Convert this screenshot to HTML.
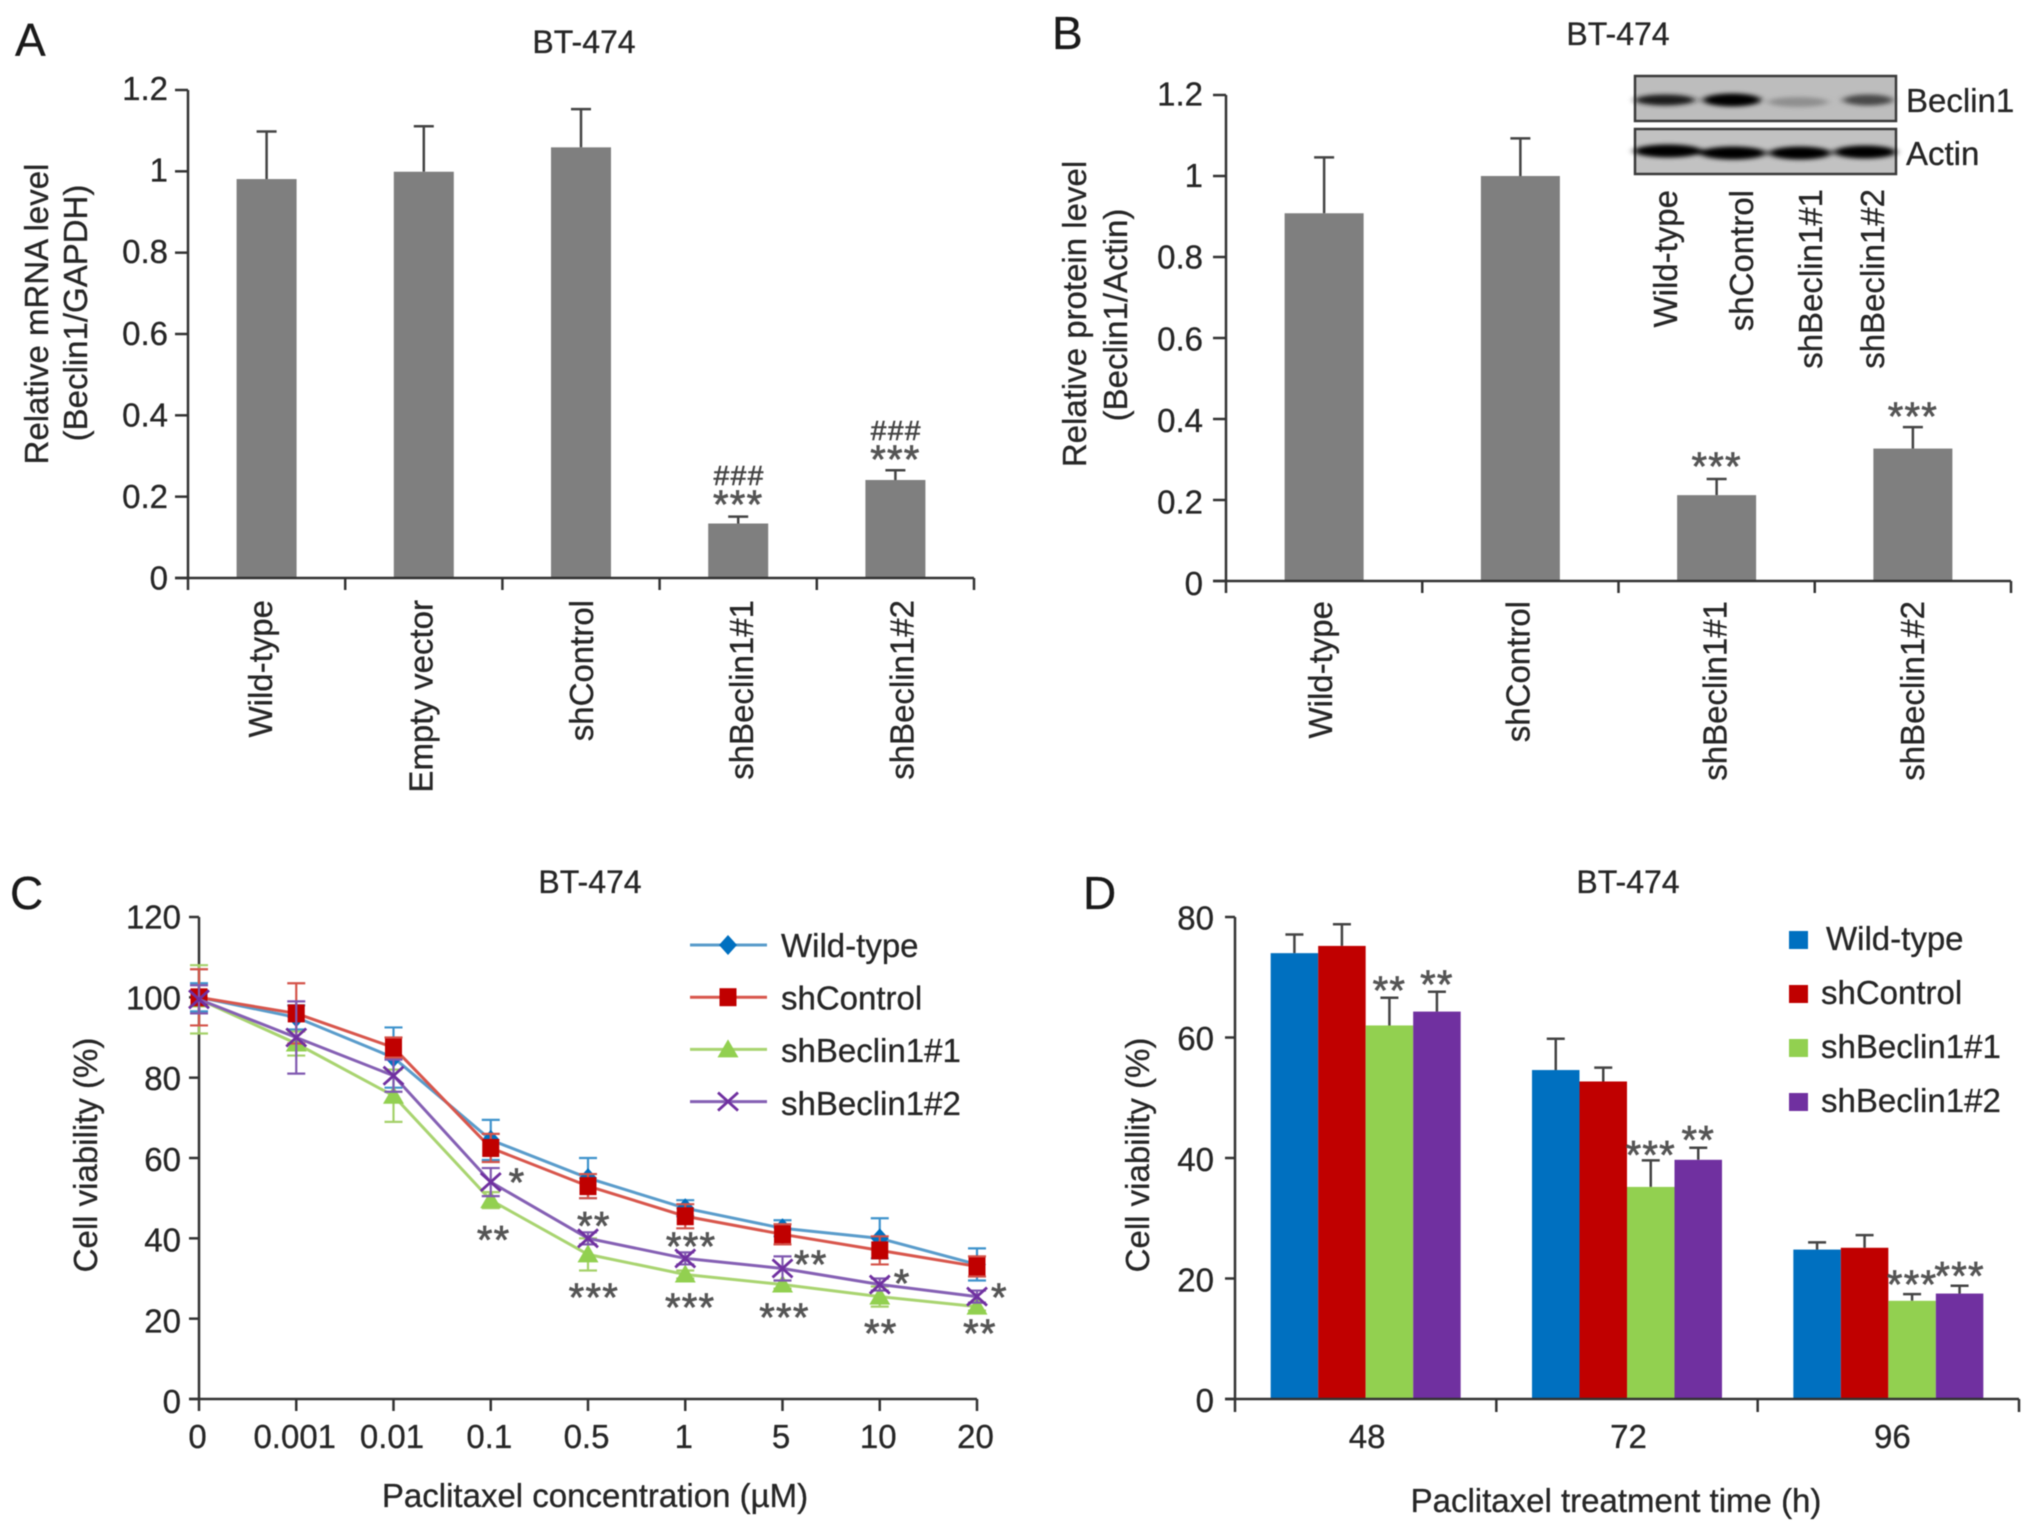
<!DOCTYPE html>
<html>
<head>
<meta charset="utf-8">
<title>Beclin1 knockdown in BT-474</title>
<style>
html,body{margin:0;padding:0;background:#fff;width:2032px;height:1532px;overflow:hidden}
svg{display:block;filter:blur(.55px)}
text{font-family:"Liberation Sans",sans-serif;font-size:33px;fill:#262626;stroke:#262626;stroke-width:.3px}
.letter{font-size:46px;fill:#1a1a1a}
.title{font-size:32px;text-anchor:middle}
.inset{font-size:33px}
</style>
</head>
<body>
<svg id="fig" xmlns="http://www.w3.org/2000/svg" width="2032" height="1532" viewBox="0 0 2032 1532">
  <defs>
    <filter id="soft" x="-30%" y="-100%" width="160%" height="300%"><feGaussianBlur stdDeviation="4 2"/></filter>
  </defs>

  <text class="letter" x="15" y="56">A</text>
  <text class="letter" x="1052" y="49">B</text>
  <text class="letter" x="10" y="909">C</text>
  <text class="letter" x="1083" y="909">D</text>

  <text class="title" x="584" y="53">BT-474</text>
  <text class="title" x="1618" y="45">BT-474</text>
  <text class="title" x="590" y="893">BT-474</text>
  <text class="title" x="1628" y="893">BT-474</text>

  <g text-anchor="middle">
    <text transform="translate(48 314) rotate(-90)">Relative mRNA level</text>
    <text transform="translate(87 313) rotate(-90)">(Beclin1/GAPDH)</text>
  </g>
  <g text-anchor="middle">
    <text transform="translate(1086 314) rotate(-90)">Relative protein level</text>
    <text transform="translate(1127 315) rotate(-90)">(Beclin1/Actin)</text>
  </g>
  <text transform="translate(97 1155) rotate(-90)" text-anchor="middle">Cell viability (%)</text>
  <text transform="translate(1149 1155) rotate(-90)" text-anchor="middle">Cell viability (%)</text>
  <text x="595" y="1507" text-anchor="middle">Paclitaxel concentration (µM)</text>
  <text x="1616" y="1512" text-anchor="middle">Paclitaxel treatment time (h)</text>

  <g id="blot">
    <rect x="1635" y="76" width="261" height="45" fill="#bdbdbd" stroke="#3a3a3a" stroke-width="2.5"/>
    <g filter="url(#soft)">
      <ellipse cx="1665" cy="100" rx="30" ry="5.5" fill="#1f1f1f"/>
      <ellipse cx="1732" cy="100" rx="29" ry="6.5" fill="#000"/>
      <ellipse cx="1798" cy="102" rx="30" ry="5" fill="#8f8f8f"/>
      <ellipse cx="1868" cy="100" rx="25" ry="5.5" fill="#4a4a4a"/>
    </g>
    <rect x="1635" y="129" width="261" height="45" fill="#c2c2c2" stroke="#3a3a3a" stroke-width="2.5"/>
    <g filter="url(#soft)">
      <ellipse cx="1668" cy="151" rx="34" ry="6.5" fill="#000"/>
      <ellipse cx="1733" cy="153" rx="33" ry="6.5" fill="#000"/>
      <ellipse cx="1800" cy="153" rx="31" ry="6.5" fill="#000"/>
      <ellipse cx="1865" cy="152" rx="31" ry="6.5" fill="#000"/>
    </g>
    <text class="inset" x="1906" y="112">Beclin1</text>
    <text class="inset" x="1906" y="165">Actin</text>
    <text class="inset" text-anchor="end" transform="translate(1677 190) rotate(-90)">Wild-type</text>
    <text class="inset" text-anchor="end" transform="translate(1753 190) rotate(-90)">shControl</text>
    <text class="inset" text-anchor="end" transform="translate(1822 189) rotate(-90)">shBeclin1#1</text>
    <text class="inset" text-anchor="end" transform="translate(1884 189) rotate(-90)">shBeclin1#2</text>
  </g>
</svg>

<script>
/* Panel A */
const aCategories = ['Wild-type', 'Empty vector', 'shControl', 'shBeclin1#1', 'shBeclin1#2'];
const aValues = [0.981, 0.999, 1.059, 0.134, 0.241];
const aErrors = [0.117, 0.112, 0.094, 0.017, 0.024];
const aTicks = ['0', '0.2', '0.4', '0.6', '0.8', '1', '1.2'];
/* Panel B */
const bCategories = ['Wild-type', 'shControl', 'shBeclin1#1', 'shBeclin1#2'];
const bValues = [0.908, 1.0, 0.212, 0.327];
const bErrors = [0.138, 0.093, 0.04, 0.053];
const bTicks = ['0', '0.2', '0.4', '0.6', '0.8', '1', '1.2'];
/* Panel C */
const cCategories = ['0', '0.001', '0.01', '0.1', '0.5', '1', '5', '10', '20'];
const cTicks = ['0', '20', '40', '60', '80', '100', '120'];
const cWildType = [100, 95, 85, 64.5, 55, 47.5, 42.5, 40, 33.5];
const cWildTypeErr = [3.5, 3, 7.5, 5, 5, 2, 2, 5, 4];
const cShControl = [100, 96, 87.5, 62.5, 53, 45.5, 41, 37, 33];
const cShControlErr = [7, 7.5, 2.5, 3.5, 3, 3, 2.5, 3.5, 2.5];
const cSh1 = [99.5, 88.5, 75.5, 49.5, 36, 31, 28.5, 25.5, 23];
const cSh1Err = [8.5, 3, 6.5, 2, 4, 1, 1, 2.5, 1];
const cSh2 = [99.5, 90, 80.5, 54, 40, 35, 32.5, 28.5, 25.5];
const cSh2Err = [3.5, 9, 4, 3.5, 1.5, 1.5, 3, 1.5, 1.5];
const cStarMarks = ['*', '**', '**', '***', '***', '***', '**', '***', '*', '**', '*', '**'];
const cStarIndex = [3.27, 3.03, 4.06, 4.06, 5.06, 5.05, 6.29, 6.02, 7.23, 7.01, 8.23, 8.03];
const cStarLevel = [55.3, 41, 44.5, 26.6, 39.3, 24.2, 34.8, 21.7, 30.1, 17.7, 26.6, 17.7];
const seriesNames = ['Wild-type', 'shControl', 'shBeclin1#1', 'shBeclin1#2'];
/* Panel D */
const dCategories = ['48', '72', '96'];
const dTicks = ['0', '20', '40', '60', '80'];
const dWildType = [74, 54.6, 24.8];
const dWildTypeErr = [3.1, 5.2, 1.2];
const dShControl = [75.2, 52.7, 25.1];
const dShControlErr = [3.6, 2.3, 2.1];
const dSh1 = [62, 35.2, 16.3];
const dSh1Err = [4.6, 4.4, 1.1];
const dSh2 = [64.3, 39.7, 17.5];
const dSh2Err = [3.3, 2, 1.3];
const dStarMarks = [['', '', '**', '**'], ['', '', '***', '**'], ['', '', '***', '***']];
const dStarLevel = [[0, 0, 68.7, 69.7], [0, 0, 41.4, 43.9], [0, 0, 19.9, 21.3]];

const NS = 'http://www.w3.org/2000/svg';
const fig = document.getElementById('fig');
const INK = '#333';

function mk(tag, attrs, parent) {
  const el = document.createElementNS(NS, tag);
  for (const k in attrs) el.setAttribute(k, attrs[k]);
  (parent || fig).appendChild(el);
  return el;
}
function slug(s) {
  return String(s).toLowerCase().replace(/[^a-z0-9]+/g, '-').replace(/^-|-$/g, '');
}
function line(x1, y1, x2, y2, stroke, w, parent) {
  return mk('line', {x1: x1, y1: y1, x2: x2, y2: y2, stroke: stroke, 'stroke-width': w}, parent);
}
function stars(x, yc, s, prefix) {
  const t = mk('text', {x: x, y: yc + 19, 'text-anchor': 'middle', 'letter-spacing': '1.2', style: 'font-size:40px;fill:#555;stroke:#555;stroke-width:.7px'});
  t.textContent = s;
  
  
  return t;
}
function hashes(x, baseline, s, prefix) {
  const t = mk('text', {x: x + 1, y: baseline + 1, 'text-anchor': 'middle', 'letter-spacing': '1.5', style: 'font-size:28px;fill:#444;stroke:#444;stroke-width:.6px'});
  t.textContent = s;
  
  
  return t;
}

/* shared value axis: label baseline offset drifts from off0 at zero to offTop at the top */
function yAxis(prefix, ticks, axisX, y0, yTop, labelEnd, tickLen, off0, offTop) {
  const g = mk('g', {});
  
  
  line(axisX, y0, axisX, yTop, INK, 2.5, g);
  ticks.forEach(function (lab, i) {
    const f = i / (ticks.length - 1);
    const y = y0 + (yTop - y0) * f;
    line(axisX - tickLen, y, axisX, y, INK, 2.5, g);
    const t = mk('text', {x: labelEnd, y: y + off0 + (offTop - off0) * f, 'text-anchor': 'end'}, g);
    t.textContent = lab;
    
    
  });
}
function yScale(y0, yTop, max) {
  return function (v) { return y0 + (yTop - y0) * v / max; };
}

/* Panel A and B: grey bars with upper error bars */
function greyPanel(prefix, cats, vals, errs, ticks, geo) {
  const sy = yScale(geo.y0, geo.yTop, 1.2);
  const band = (geo.xEnd - geo.axisX) / cats.length;
  const sx = function (i) { return geo.axisX + band * (i + 0.5); };
  yAxis(prefix, ticks, geo.axisX, geo.y0, geo.yTop, geo.labelEnd, 13, geo.off0, geo.offTop);
  vals.forEach(function (v, i) {
    const x = sx(i);
    const eb = line(x, sy(v), x, sy(v + errs[i]), '#444', 2.5);
    
    
    const cap = line(x - 10, sy(v + errs[i]), x + 10, sy(v + errs[i]), '#444', 2.5);
    
    
    const r = mk('rect', {x: x - geo.barW / 2, y: sy(v), width: geo.barW, height: geo.y0 - sy(v), fill: '#7f7f7f'});
    
    
    const t = mk('text', {'text-anchor': 'end', transform: 'translate(' + (geo.labelX + geo.labelStep * i) + ' ' + geo.labelTop + ') rotate(-90)'});
    t.textContent = cats[i];
    
    
  });
  const ax = line(geo.axisX - 13, geo.y0, geo.xEnd, geo.y0, INK, 2.5);
  
  
  for (let i = 0; i <= cats.length; i++) {
    const x = geo.axisX + band * i;
    const tk = line(x, geo.y0, x, geo.y0 + 12, INK, 2.5);
    
    
  }
  return {sx: sx, sy: sy};
}

const pa = greyPanel('panel-a', aCategories, aValues, aErrors, aTicks,
  {axisX: 188, xEnd: 974, y0: 578, yTop: 90, labelEnd: 168, barW: 60, labelX: 272, labelStep: 160.4, labelTop: 600, off0: 11.5, offTop: 10});
stars(pa.sx(3), 499, '***', 'panel-a');
hashes(pa.sx(3), 484, '###', 'panel-a');
stars(pa.sx(4), 454, '***', 'panel-a');
hashes(pa.sx(4), 439, '###', 'panel-a');

const pb = greyPanel('panel-b', bCategories, bValues, bErrors, bTicks,
  {axisX: 1226, xEnd: 2011, y0: 581, yTop: 95, labelEnd: 1203, barW: 79, labelX: 1332, labelStep: 197.3, labelTop: 601, off0: 14, offTop: 10.5});
stars(pb.sx(2), 461, '***', 'panel-b');
stars(pb.sx(3), 411, '***', 'panel-b');

/* Panel C */
const cx0 = 199, cxEnd = 977, cy0 = 1399, cyTop = 917;
const csy = yScale(cy0, cyTop, 120);
const csx = function (i) { return cx0 + (cxEnd - cx0) * i / (cCategories.length - 1); };
yAxis('panel-c', cTicks, cx0, cy0, cyTop, 181, 10, 14, 11.5);
const cxAxis = line(cx0 - 10, cy0, cxEnd, cy0, INK, 2.5);


cCategories.forEach(function (lab, i) {
  const tk = line(csx(i), cy0, csx(i), cy0 + 12, INK, 2.5);
  
  
  const t = mk('text', {x: csx(i) - 1.5, y: 1448, 'text-anchor': 'middle'});
  t.textContent = lab;
  
  
});

function marker(kind, x, y, color, parent) {
  if (kind === 'diamond') {
    return mk('path', {d: 'M' + x + ' ' + (y - 10) + 'L' + (x + 9) + ' ' + y + 'L' + x + ' ' + (y + 10) + 'L' + (x - 9) + ' ' + y + 'Z', fill: color}, parent);
  }
  if (kind === 'square') {
    return mk('rect', {x: x - 8.5, y: y - 9, width: 17, height: 18, fill: color}, parent);
  }
  if (kind === 'triangle') {
    return mk('path', {d: 'M' + x + ' ' + (y - 10) + 'L' + (x + 10.5) + ' ' + (y + 8) + 'L' + (x - 10.5) + ' ' + (y + 8) + 'Z', fill: color}, parent);
  }
  return mk('path', {d: 'M' + (x - 10) + ' ' + (y - 9) + 'L' + (x + 10) + ' ' + (y + 9) + 'M' + (x + 10) + ' ' + (y - 9) + 'L' + (x - 10) + ' ' + (y + 9), fill: 'none', stroke: color, 'stroke-width': 2.8}, parent);
}
const cDraw = [
  {name: seriesNames[0], vals: cWildType, errs: cWildTypeErr, lineColor: '#5a9ccb', errColor: '#3f93cc', mark: '#0070c0', kind: 'diamond'},
  {name: seriesNames[2], vals: cSh1, errs: cSh1Err, lineColor: '#a9d470', errColor: '#a5d16a', mark: '#92d050', kind: 'triangle'},
  {name: seriesNames[1], vals: cShControl, errs: cShControlErr, lineColor: '#d8564c', errColor: '#d4534a', mark: '#c00000', kind: 'square'},
  {name: seriesNames[3], vals: cSh2, errs: cSh2Err, lineColor: '#8560b4', errColor: '#8059b0', mark: '#7030a0', kind: 'x'}
];
cDraw.forEach(function (s) {
  const g = mk('g', {});
  
  
  const pts = s.vals.map(function (v, i) { return csx(i) + ',' + csy(v); }).join(' ');
  const pl = mk('polyline', {points: pts, fill: 'none', stroke: s.lineColor, 'stroke-width': 3}, g);
  
  
  s.vals.forEach(function (v, i) {
    const x = csx(i), hi = csy(v + s.errs[i]), lo = csy(v - s.errs[i]);
    const eb = mk('path', {d: 'M' + (x - 9) + ' ' + hi + 'H' + (x + 9) + 'M' + x + ' ' + hi + 'V' + lo + 'M' + (x - 9) + ' ' + lo + 'H' + (x + 9), fill: 'none', stroke: s.errColor, 'stroke-width': 2.2}, g);
    
    
    const m = marker(s.kind, x, csy(v), s.mark, g);
    
    
  });
});
cStarMarks.forEach(function (s, i) {
  stars(csx(cStarIndex[i]), csy(cStarLevel[i]), s, 'panel-c');
});
const cLegendStyle = [cDraw[0], cDraw[2], cDraw[1], cDraw[3]];
seriesNames.forEach(function (name, i) {
  const g = mk('g', {});
  
  
  const st = cLegendStyle[i];
  const rowY = 945 + 52.2 * i;
  line(690, rowY, 767, rowY, st.lineColor, 3, g);
  marker(st.kind, 728, rowY, st.mark, g);
  const t = mk('text', {x: 781, y: 957 + 52.6 * i}, g);
  t.textContent = name;
  
  
});

/* Panel D */
const dx0 = 1235, dxEnd = 2019, dy0 = 1399, dyTop = 917;
const dsy = yScale(dy0, dyTop, 80);
const dBand = (dxEnd - dx0) / dCategories.length;
const dBarW = 47.5;
const dsx = function (g, s) { return dx0 + dBand * (g + 0.5) + dBarW * (s - 1.5); };
const dSeries = [
  {name: seriesNames[0], vals: dWildType, errs: dWildTypeErr, color: '#0070c0'},
  {name: seriesNames[1], vals: dShControl, errs: dShControlErr, color: '#c00000'},
  {name: seriesNames[2], vals: dSh1, errs: dSh1Err, color: '#92d050'},
  {name: seriesNames[3], vals: dSh2, errs: dSh2Err, color: '#7030a0'}
];
yAxis('panel-d', dTicks, dx0, dy0, dyTop, 1214, 10, 13, 12.5);
dSeries.forEach(function (s, si) {
  s.vals.forEach(function (v, gi) {
    const x = dsx(gi, si);
    const eb = mk('path', {d: 'M' + x + ' ' + dsy(v) + 'V' + dsy(v + s.errs[gi]) + 'M' + (x - 9) + ' ' + dsy(v + s.errs[gi]) + 'H' + (x + 9), fill: 'none', stroke: '#444', 'stroke-width': 2.5});
    
    
    const r = mk('rect', {x: x - dBarW / 2, y: dsy(v), width: dBarW, height: dy0 - dsy(v), fill: s.color});
    
    
    if (dStarMarks[gi][si]) {
      stars(x, dsy(dStarLevel[gi][si]), dStarMarks[gi][si], 'panel-d');
    }
  });
});
const dxAxis = line(dx0 - 10, dy0, dxEnd, dy0, INK, 2.5);


for (let i = 0; i <= dCategories.length; i++) {
  const tk = line(dx0 + dBand * i, dy0, dx0 + dBand * i, dy0 + 13, INK, 2.5);
  
  
}
dCategories.forEach(function (lab, i) {
  const t = mk('text', {x: dx0 + dBand * (i + 0.5) + 1.5 + (i === 2 ? 2.5 : 0), y: 1448, 'text-anchor': 'middle'});
  t.textContent = lab;
  
  
});
dSeries.forEach(function (s, i) {
  const g = mk('g', {});
  
  
  mk('rect', {x: 1789, y: 931 + 54 * i, width: 19, height: 18, fill: s.color}, g);
  const t = mk('text', {x: i === 0 ? 1826 : 1821, y: 950 + 54 * i}, g);
  t.textContent = s.name;
  
  
});
</script>
</body>
</html>
